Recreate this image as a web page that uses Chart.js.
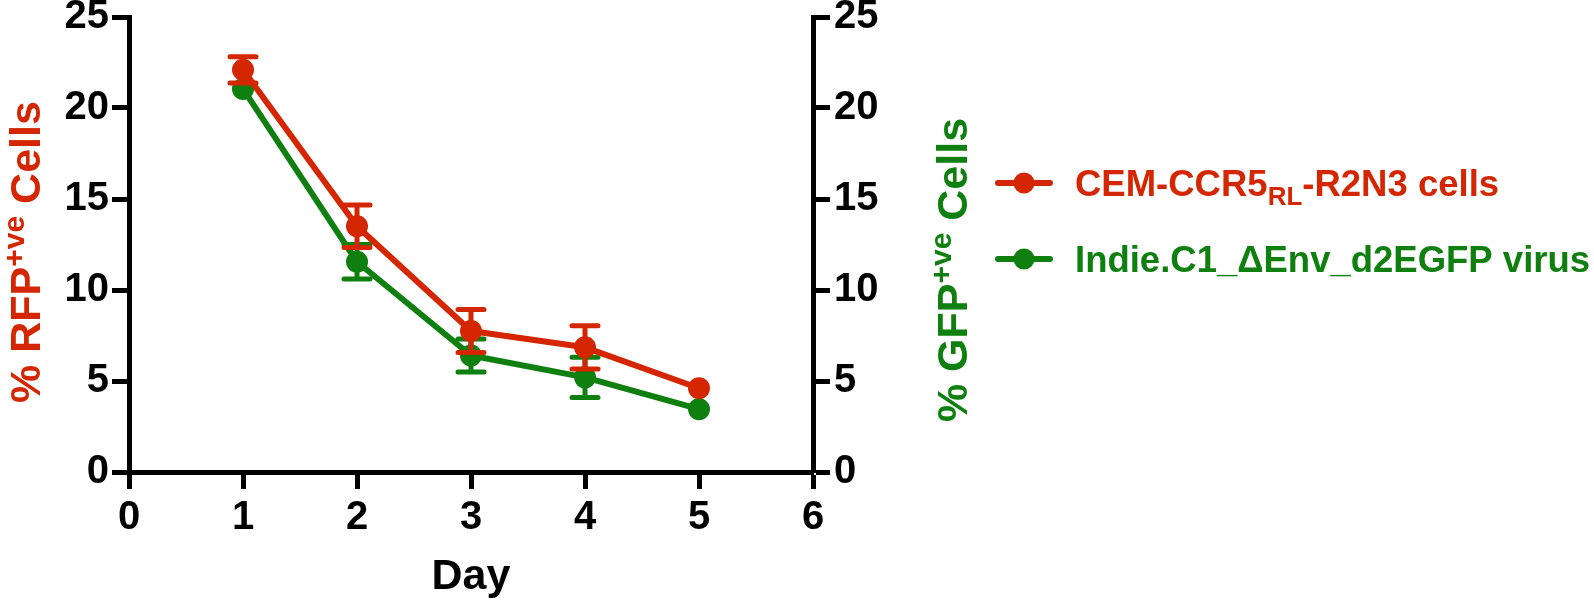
<!DOCTYPE html>
<html>
<head>
<meta charset="utf-8">
<script src="https://cdn.jsdelivr.net/npm/chart.js@4.4.1/dist/chart.umd.min.js"></script>
<style>
  html, body { margin: 0; padding: 0; background: #fff; }
  #wrap { position: relative; width: 1594px; height: 601px; }
</style>
</head>
<body>
<div id="wrap"><canvas id="c" width="1594" height="601"></canvas></div>
<script>
// ---- data ----
const days = [1, 2, 3, 4, 5];
const xTicks = [0, 1, 2, 3, 4, 5, 6];
const yTicks = [0, 5, 10, 15, 20, 25];
const rfpValues = [22.1, 13.5, 7.75, 6.85, 4.6];
const rfpErrors = [0.72, 1.17, 1.18, 1.19, 0];
const gfpValues = [21.05, 11.55, 6.4, 5.2, 3.45];
const gfpErrors = [0, 0.95, 0.91, 1.1, 0];
const seriesNames = ['CEM-CCR5', 'Indie.C1_ΔEnv_d2EGFP virus'];
const xTitle = 'Day';

const RED = '#D42600';
const GREEN = '#0F800F';
const FONT = '"Liberation Sans", Arial, Helvetica, sans-serif';

const errs = [rfpErrors, gfpErrors];

const errorBarPlugin = {
  id: 'errorBars',
  afterDatasetDraw(chart, args) {
    const meta = args.meta;
    const ds = chart.data.datasets[args.index];
    const e = errs[args.index];
    const ys = chart.scales[meta.yAxisID];
    const ctx = chart.ctx;
    ctx.save();
    ctx.strokeStyle = ds.borderColor;
    ctx.lineWidth = 5;
    ctx.lineCap = 'round';
    meta.data.forEach((pt, i) => {
      if (!e[i]) return;
      const v = ds.data[i].y;
      const yTop = ys.getPixelForValue(v + e[i]);
      const yBot = ys.getPixelForValue(v - e[i]);
      const x = pt.x;
      ctx.beginPath();
      ctx.moveTo(x, yTop); ctx.lineTo(x, yBot);
      ctx.moveTo(x - 13, yTop); ctx.lineTo(x + 13, yTop);
      ctx.moveTo(x - 13, yBot); ctx.lineTo(x + 13, yBot);
      ctx.stroke();
    });
    ctx.restore();
  }
};

function drawRichRotated(ctx, parts, cy, baseX, color) {
  ctx.save();
  ctx.fillStyle = color;
  let total = 0;
  parts.forEach(p => { ctx.font = 'bold ' + p.size + 'px ' + FONT; p.w = ctx.measureText(p.t).width; total += p.w; });
  ctx.translate(baseX, cy);
  ctx.rotate(-Math.PI / 2);
  let x = -total / 2;
  ctx.textBaseline = 'alphabetic';
  ctx.textAlign = 'left';
  parts.forEach(p => { ctx.font = 'bold ' + p.size + 'px ' + FONT; ctx.fillText(p.t, x, p.dy); x += p.w; });
  ctx.restore();
}

function drawRich(ctx, parts, x, y, color) {
  ctx.save();
  ctx.fillStyle = color;
  ctx.textBaseline = 'alphabetic';
  ctx.textAlign = 'left';
  parts.forEach(p => { ctx.font = 'bold ' + p.size + 'px ' + FONT; ctx.fillText(p.t, x, y + p.dy); x += ctx.measureText(p.t).width; });
  ctx.restore();
}

const annotPlugin = {
  id: 'annot',
  afterDraw(chart) {
    const ctx = chart.ctx;
    const area = chart.chartArea;
    // axis titles
    drawRichRotated(ctx, [
      {t: '% RFP', size: 43, dy: 0}, {t: '+ve', size: 30, dy: -16}, {t: ' Cells', size: 43, dy: 0}
    ], 252, 40, RED);
    drawRichRotated(ctx, [
      {t: '% GFP', size: 43, dy: 0}, {t: '+ve', size: 30, dy: -16}, {t: ' Cells', size: 43, dy: 0}
    ], 270, 967, GREEN);
    // x title
    ctx.save();
    ctx.fillStyle = '#000';
    ctx.font = 'bold 43px ' + FONT;
    ctx.textAlign = 'center';
    ctx.textBaseline = 'alphabetic';
    ctx.fillText(xTitle, (area.left + area.right) / 2, 589);
    ctx.restore();
    // legend
    const rows = [
      {y: 183, color: RED, parts: [{t: seriesNames[0], size: 36.5, dy: 0}, {t: 'RL', size: 26, dy: 9}, {t: '-R2N3 cells', size: 36.5, dy: 0}]},
      {y: 259, color: GREEN, parts: [{t: seriesNames[1], size: 36.5, dy: 0}]}
    ];
    rows.forEach(r => {
      ctx.save();
      ctx.strokeStyle = r.color; ctx.fillStyle = r.color;
      ctx.lineWidth = 6; ctx.lineCap = 'round';
      ctx.beginPath(); ctx.moveTo(998, r.y); ctx.lineTo(1050, r.y); ctx.stroke();
      ctx.beginPath(); ctx.arc(1024, r.y, 10.5, 0, Math.PI * 2); ctx.fill();
      ctx.restore();
      drawRich(ctx, r.parts, 1075, r.y + 13, r.color);
    });
  }
};

const tickFont = {family: FONT, size: 40, weight: 'bold'};
function axisCommon() {
  return {
    grid: {drawOnChartArea: false, drawTicks: true, tickLength: 17, tickWidth: 5, color: '#000'},
    border: {display: true, width: 5, color: '#000'},
  };
}

new Chart(document.getElementById('c'), {
  type: 'line',
  data: {
    datasets: [
      {
        label: 'RFP', yAxisID: 'y',
        data: days.map((d, i) => ({x: d, y: rfpValues[i]})),
        borderColor: RED, backgroundColor: RED, borderWidth: 6,
        pointRadius: 11, pointHoverRadius: 11, pointBorderWidth: 0,
        tension: 0, borderCapStyle: 'round', borderJoinStyle: 'round'
      },
      {
        label: 'GFP', yAxisID: 'y1',
        data: days.map((d, i) => ({x: d, y: gfpValues[i]})),
        borderColor: GREEN, backgroundColor: GREEN, borderWidth: 6,
        pointRadius: 11, pointHoverRadius: 11, pointBorderWidth: 0,
        tension: 0, borderCapStyle: 'round', borderJoinStyle: 'round'
      }
    ]
  },
  options: {
    responsive: false,
    animation: false,
    events: [],
    layout: {padding: {top: 17, left: 0, right: 0, bottom: 0}},
    plugins: {legend: {display: false}, tooltip: {enabled: false}},
    scales: {
      x: Object.assign(axisCommon(), {
        type: 'linear', min: 0, max: 6,
        afterBuildTicks: s => { s.ticks = xTicks.map(v => ({value: v})); },
        ticks: {font: tickFont, color: '#000', padding: 5, maxRotation: 0},
        afterFit: s => { s.height = 129; s.paddingLeft = 0; s.paddingRight = 0; }
      }),
      y: Object.assign(axisCommon(), {
        position: 'left', min: 0, max: 25,
        afterBuildTicks: s => { s.ticks = yTicks.map(v => ({value: v})); },
        ticks: {font: tickFont, color: '#000', padding: 3},
        afterFit: s => { s.width = 129; s.paddingTop = 0; s.paddingBottom = 0; }
      }),
      y1: Object.assign(axisCommon(), {
        position: 'right', min: 0, max: 25,
        afterBuildTicks: s => { s.ticks = yTicks.map(v => ({value: v})); },
        ticks: {font: tickFont, color: '#000', padding: 4},
        afterFit: s => { s.width = 1594 - 813; s.paddingTop = 0; s.paddingBottom = 0; }
      })
    }
  },
  plugins: [errorBarPlugin, annotPlugin]
});
</script>
</body>
</html>
